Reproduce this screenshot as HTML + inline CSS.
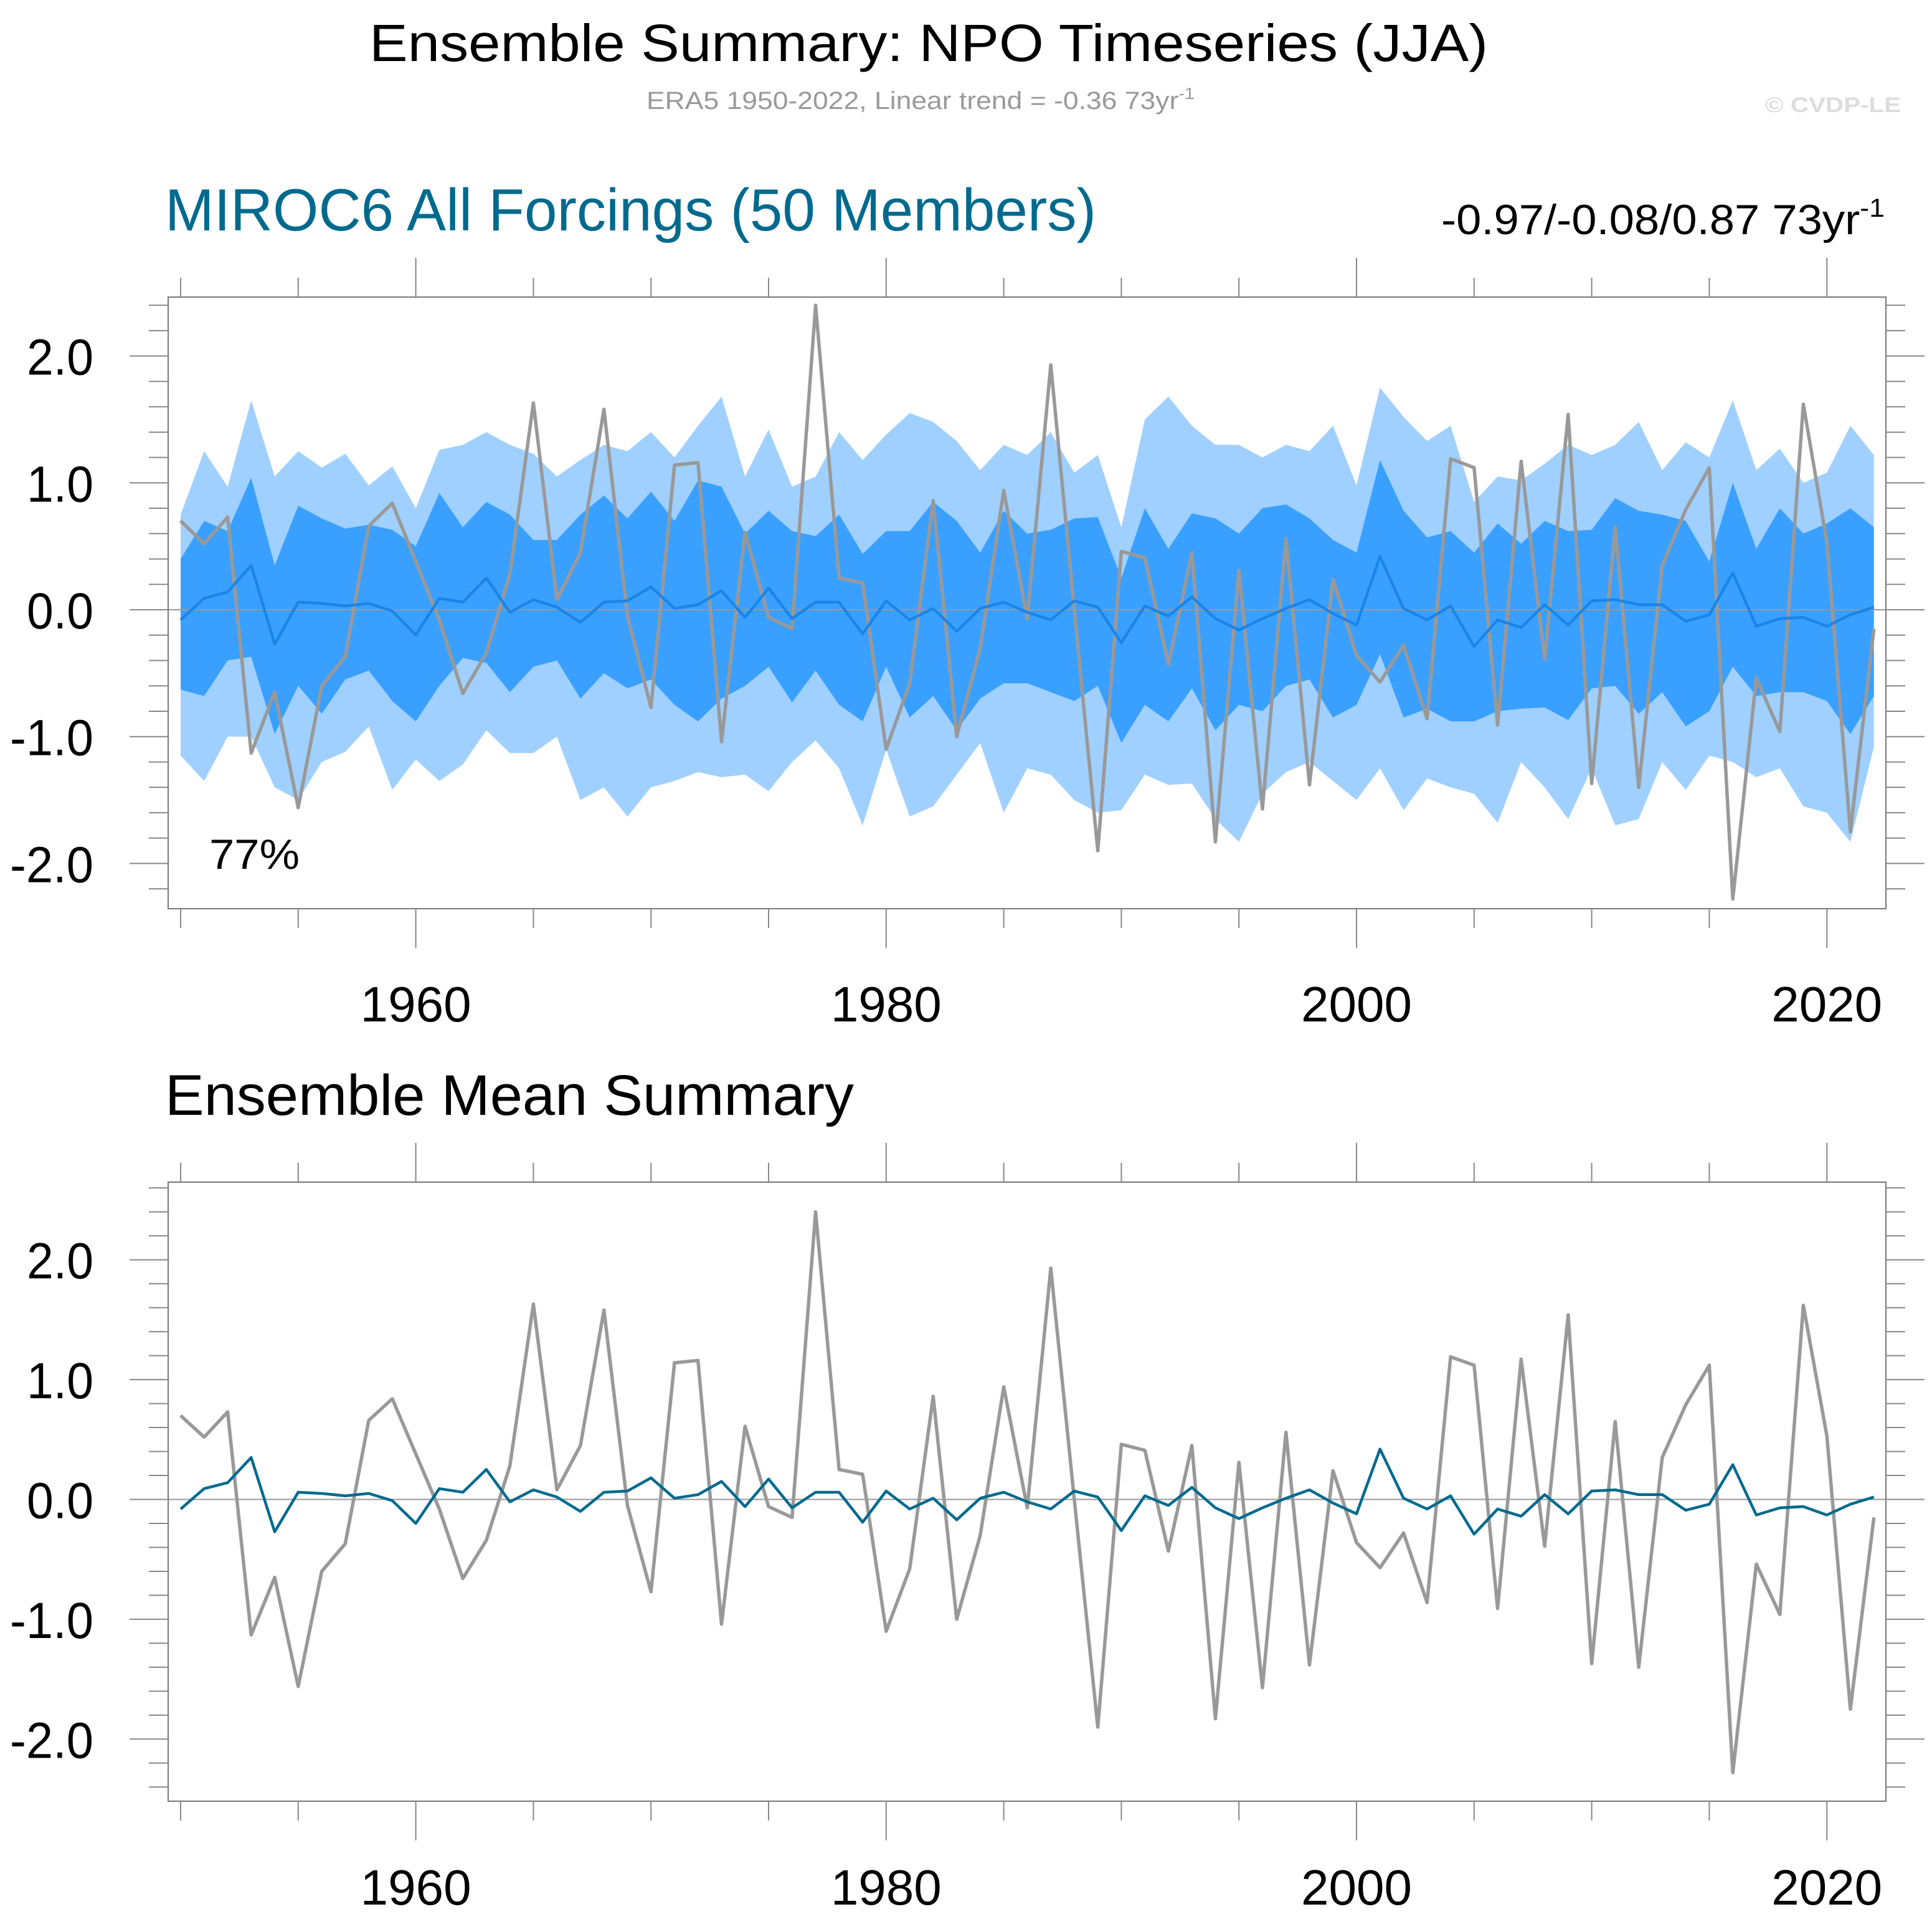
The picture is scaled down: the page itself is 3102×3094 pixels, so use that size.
<!DOCTYPE html>
<html><head><meta charset="utf-8"><style>
html,body{margin:0;padding:0;background:#fff}
svg{display:block;font-family:"Liberation Sans",sans-serif}
</style></head><body>
<svg id="chart" width="3102" height="3094" viewBox="0 0 3102 3094" xmlns="http://www.w3.org/2000/svg">
<text x="1491" y="98" font-size="84" text-anchor="middle" fill="#000" textLength="1796" lengthAdjust="spacingAndGlyphs">Ensemble Summary: NPO Timeseries (JJA)</text>
<text x="1038" y="175" font-size="40" fill="#999" textLength="880" lengthAdjust="spacingAndGlyphs">ERA5 1950-2022, Linear trend = -0.36 73yr<tspan dy="-16" font-size="26">-1</tspan></text>
<text x="2834" y="180" font-size="34" font-weight="bold" fill="#ddd" textLength="218" lengthAdjust="spacingAndGlyphs">© CVDP-LE</text>
<text x="265" y="370" font-size="96" fill="#006a8e" textLength="1495" lengthAdjust="spacingAndGlyphs">MIROC6 All Forcings (50 Members)</text>
<text x="2314" y="376" font-size="68" fill="#000" textLength="712" lengthAdjust="spacingAndGlyphs">-0.97/-0.08/0.87 73yr<tspan dy="-28" font-size="42">-1</tspan></text>
<text x="265" y="1790" font-size="92" fill="#000" textLength="1106" lengthAdjust="spacingAndGlyphs">Ensemble Mean Summary</text>
<g id="top"></g>
<g id="bot"></g>
<text x="336" y="1395" font-size="68" fill="#000" textLength="145" lengthAdjust="spacingAndGlyphs">77%</text>
</svg>
<script>
const years = Array.from({length:73},(_,i)=>1950+i);
const obs = [0.70,0.52,0.73,-1.13,-0.65,-1.56,-0.60,-0.37,0.66,0.84,0.38,-0.08,-0.66,-0.34,0.28,1.63,0.08,0.45,1.58,-0.05,-0.77,1.14,1.16,-1.04,0.61,-0.06,-0.15,2.40,0.25,0.21,-1.10,-0.58,0.86,-1.00,-0.30,0.94,-0.07,1.93,0.0,-1.90,0.46,0.41,-0.43,0.45,-1.83,0.31,-1.57,0.56,-1.38,0.24,-0.36,-0.57,-0.28,-0.86,1.19,1.12,-0.91,1.17,-0.39,1.54,-1.37,0.65,-1.40,0.35,0.79,1.12,-2.28,-0.54,-0.96,1.62,0.53,-1.75,-0.15];
const ensMean = [-0.08,0.09,0.14,0.35,-0.27,0.06,0.05,0.03,0.05,-0.01,-0.20,0.09,0.06,0.25,-0.02,0.08,0.02,-0.10,0.06,0.07,0.18,0.01,0.04,0.15,-0.06,0.17,-0.07,0.06,0.06,-0.19,0.07,-0.08,0.01,-0.17,0.01,0.06,-0.02,-0.08,0.07,0.02,-0.26,0.03,-0.05,0.10,-0.07,-0.16,-0.07,0.01,0.08,-0.03,-0.12,0.42,0.01,-0.08,0.03,-0.29,-0.08,-0.14,0.04,-0.12,0.07,0.08,0.04,0.04,-0.09,-0.04,0.29,-0.13,-0.07,-0.06,-0.13,-0.04,0.02];
const lightTop = [0.75,1.25,0.97,1.65,1.05,1.25,1.12,1.23,0.98,1.13,0.80,1.26,1.30,1.40,1.30,1.23,1.05,1.18,1.30,1.25,1.40,1.20,1.45,1.68,1.05,1.42,0.97,1.05,1.40,1.18,1.38,1.55,1.48,1.33,1.10,1.30,1.22,1.40,1.08,1.22,0.65,1.50,1.68,1.45,1.30,1.30,1.20,1.30,1.25,1.45,0.98,1.75,1.52,1.33,1.45,0.85,1.05,1.02,1.15,1.30,1.22,1.30,1.48,1.10,1.32,1.20,1.65,1.10,1.27,1.00,1.08,1.45,1.22];
const darkTop = [0.40,0.70,0.62,1.04,0.35,0.82,0.72,0.64,0.67,0.63,0.50,0.92,0.65,0.85,0.75,0.55,0.55,0.75,0.90,0.72,0.93,0.70,1.02,0.97,0.60,0.78,0.62,0.58,0.75,0.44,0.62,0.62,0.85,0.70,0.45,0.78,0.60,0.63,0.72,0.73,0.25,0.80,0.48,0.76,0.72,0.60,0.80,0.83,0.72,0.55,0.45,1.18,0.78,0.57,0.62,0.45,0.68,0.52,0.70,0.62,0.63,0.88,0.78,0.75,0.70,0.38,1.00,0.48,0.80,0.60,0.68,0.80,0.65];
const darkBot = [-0.63,-0.68,-0.40,-0.37,-0.98,-0.60,-0.82,-0.55,-0.48,-0.72,-0.88,-0.60,-0.38,-0.42,-0.65,-0.45,-0.40,-0.70,-0.50,-0.62,-0.55,-0.75,-0.88,-0.70,-0.60,-0.45,-0.73,-0.48,-0.75,-0.88,-0.45,-0.85,-0.68,-0.95,-0.70,-0.58,-0.58,-0.65,-0.72,-0.60,-1.05,-0.75,-0.88,-0.62,-0.95,-0.75,-0.80,-0.60,-0.55,-0.85,-0.75,-0.35,-0.85,-0.78,-0.88,-0.88,-0.80,-0.78,-0.77,-0.87,-0.62,-0.60,-0.82,-0.65,-0.92,-0.80,-0.45,-0.68,-0.65,-0.65,-0.72,-0.98,-0.68];
const lightBot = [-1.15,-1.35,-1.00,-1.00,-1.40,-1.50,-1.20,-1.12,-0.92,-1.42,-1.18,-1.35,-1.22,-0.95,-1.13,-1.13,-1.00,-1.50,-1.40,-1.63,-1.40,-1.35,-1.28,-1.32,-1.30,-1.43,-1.20,-1.03,-1.25,-1.70,-1.10,-1.63,-1.55,-1.30,-1.05,-1.60,-1.25,-1.30,-1.50,-1.60,-1.58,-1.30,-1.38,-1.37,-1.65,-1.83,-1.45,-1.28,-1.20,-1.35,-1.50,-1.25,-1.58,-1.33,-1.40,-1.45,-1.68,-1.20,-1.40,-1.65,-1.25,-1.70,-1.65,-1.20,-1.42,-1.15,-1.20,-1.32,-1.25,-1.55,-1.60,-1.83,-1.08];
const yTicks = [-2,-1,0,1,2];
const yTickLabels = ["-2.0","-1.0","0.0","1.0","2.0"];
const xTicks = [1960,1980,2000,2020];
const xTickLabels = ["1960","1980","2000","2020"];

const NS='http://www.w3.org/2000/svg';
function mk(parent,tag,attrs){const e=document.createElementNS(NS,tag);for(const k in attrs)e.setAttribute(k,attrs[k]);parent.appendChild(e);return e;}
const X = yr => 290 + (yr-1950)*37.76;

function panel(g, y0, unit, top, bot, bands, meanColor, tickLblY){
  const Y = v => y0 - v*unit;
  const L=270,R=3028;
  if(bands){
    const area=(hi,lo,color,name)=>{
      let d='M'+years.map((yr,i)=>X(yr)+','+Y(hi[i])).join(' L');
      d+=' L'+years.slice().reverse().map((yr,j)=>{const i=years.length-1-j;return X(yr)+','+Y(lo[i]);}).join(' L')+' Z';
      const p=mk(g,'path',{d:d,fill:color});
      
      
    };
    area(lightTop,lightBot,'#a0d0ff','outer-spread-band');
    area(darkTop,darkBot,'#3aa0ff','inner-spread-band');
  }
  const z=mk(g,'line',{x1:L,x2:R,y1:Y(0),y2:Y(0),stroke:'#999','stroke-width':2});
  
  
  const o=mk(g,'polyline',{points:years.map((yr,i)=>X(yr)+','+Y(obs[i])).join(' '),fill:'none',stroke:'#999','stroke-width':5.5,'stroke-linejoin':'round'});
  
  
  const m=mk(g,'polyline',{points:years.map((yr,i)=>X(yr)+','+Y(ensMean[i])).join(' '),fill:'none',stroke:meanColor,'stroke-width':4.5,'stroke-linejoin':'round'});
  
  
  const f=mk(g,'rect',{x:L,y:top,width:R-L,height:bot-top,fill:'none',stroke:'#777','stroke-width':2});
  
  
  for(let k=-30;k<=30;k++){
    const v=k/10; if(k%2!==0) continue;
    const yy=Y(v); if(yy<top||yy>bot) continue;
    const major = k%10===0;
    const len = major?62:31;
    mk(g,'line',{x1:L-len,x2:L,y1:yy,y2:yy,stroke:'#888','stroke-width':2});
    mk(g,'line',{x1:R,x2:R+len,y1:yy,y2:yy,stroke:'#888','stroke-width':2});
  }
  yTicks.forEach((v,i)=>{
    const lbl=yTickLabels[i];
    const w = lbl.startsWith('-') ? 134 : 107;
    const t=mk(g,'text',{x:150-w,y:Y(v)+30,'font-size':82,fill:'#000',textLength:w,lengthAdjust:'spacingAndGlyphs'});
    t.textContent=lbl;
    
    
  });
  for(let yr=1950;yr<=2020;yr+=5){
    const major = yr%20===0;
    const len = major?63:31;
    mk(g,'line',{x1:X(yr),x2:X(yr),y1:top-len,y2:top,stroke:'#888','stroke-width':2});
    mk(g,'line',{x1:X(yr),x2:X(yr),y1:bot,y2:bot+len,stroke:'#888','stroke-width':2});
  }
  xTicks.forEach((yr,i)=>{
    const t=mk(g,'text',{x:X(yr),y:tickLblY,'font-size':80,'text-anchor':'middle',fill:'#000'});
    t.textContent=xTickLabels[i];
    
    
  });
}
panel(document.getElementById('top'), 979, 203.7, 477, 1459, true, '#1a85e8', 1640);
panel(document.getElementById('bot'), 2407.5, 192.4, 1898, 2892, false, '#006a8e', 3058);
</script>
</body></html>
